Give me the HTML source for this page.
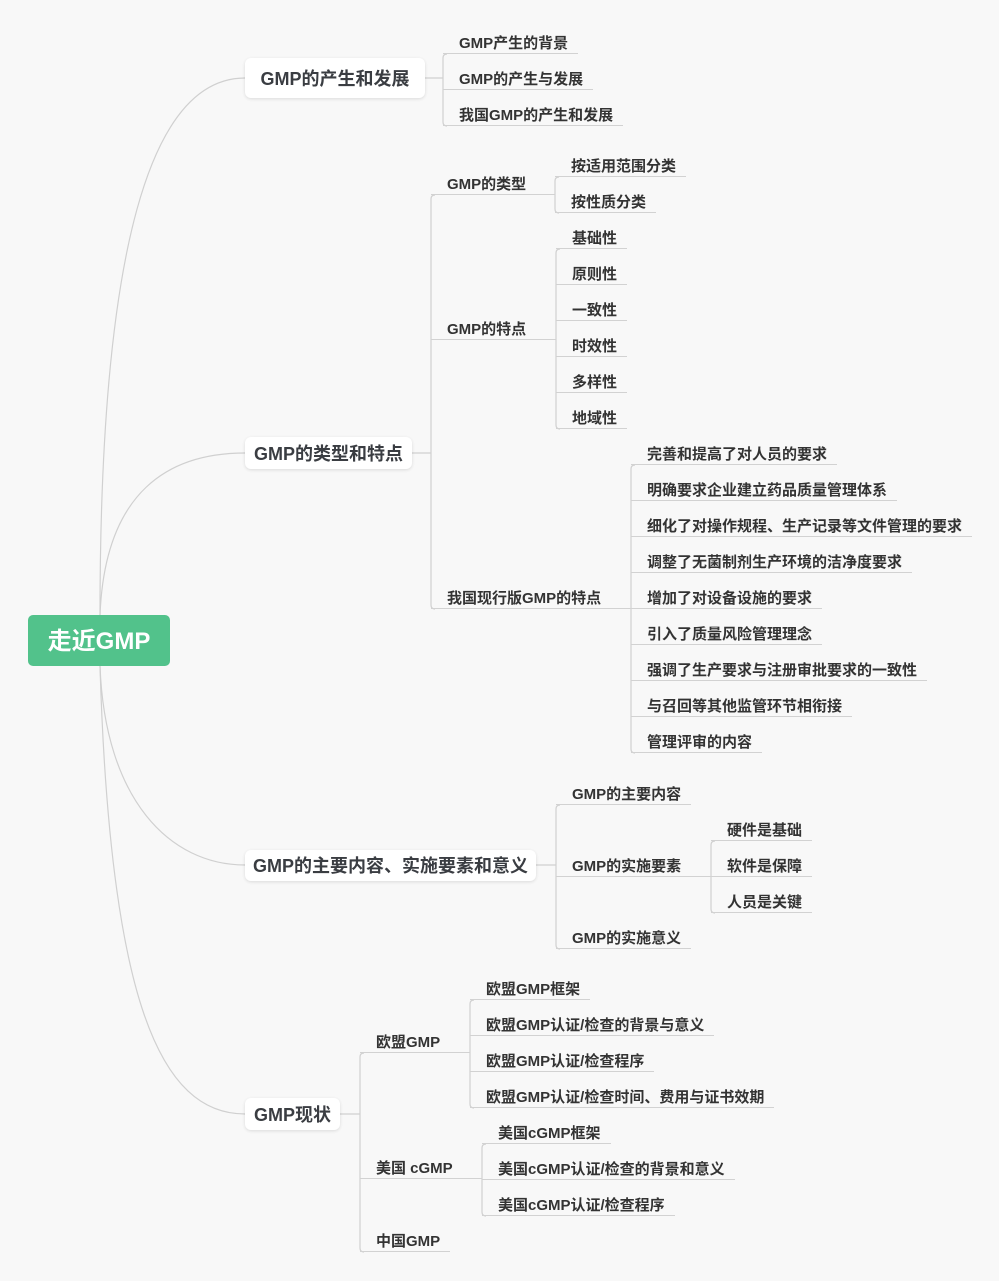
<!DOCTYPE html>
<html><head><meta charset="utf-8"><style>
body{margin:0;width:999px;height:1281px;background:#f8f8f8;position:relative;overflow:hidden;font-family:"Liberation Sans","Noto Sans CJK SC",sans-serif;}
.root{position:absolute;left:28px;top:615px;width:142px;height:51px;background:#52c28b;border-radius:5px;color:#fff;font-size:24px;font-weight:bold;line-height:53px;text-align:center;}
.m{position:absolute;left:245px;background:#fff;border-radius:6px;box-shadow:0 1px 3px rgba(0,0,0,.12);color:#3a3d42;font-size:18px;font-weight:bold;text-align:center;white-space:nowrap;}
.i{position:absolute;height:24px;line-height:28px;padding-left:16px;padding-right:10px;border-bottom:1px solid #d2d2d2;color:#333;font-size:15px;font-weight:bold;white-space:nowrap;box-sizing:border-box;}
svg{position:absolute;left:0;top:0;}
</style></head><body>
<svg width="999" height="1281" fill="none" stroke="#d0d0d0" stroke-width="1.2">
<path d="M100,615 C100,250 150,78 245,78"/>
<path d="M100,615 C105,490 170,453 245,453"/>
<path d="M100,666 C105,800 170,865 245,865"/>
<path d="M100,666 C110,1000 160,1114 245,1114"/>
<path d="M425,78H443 M447,54 Q443,54 443,58 V122 Q443,126 447,126"/>
<path d="M412,453H431 M435,195 Q431,195 431,199 V605 Q431,609 435,609"/>
<path d="M559,177 Q555,177 555,181 V209 Q555,213 559,213"/>
<path d="M560,249 Q556,249 556,253 V425 Q556,429 560,429"/>
<path d="M635,465 Q631,465 631,469 V749 Q631,753 635,753"/>
<path d="M536,865H556 M560,805 Q556,805 556,809 V945 Q556,949 560,949"/>
<path d="M715,841 Q711,841 711,845 V909 Q711,913 715,913"/>
<path d="M340,1114H360 M364,1053 Q360,1053 360,1057 V1248 Q360,1252 364,1252"/>
<path d="M474,1000 Q470,1000 470,1004 V1104 Q470,1108 474,1108"/>
<path d="M486,1144 Q482,1144 482,1148 V1212 Q482,1216 486,1216"/>
</svg>
<div class="root">走近GMP</div>
<div class="m" style="top:58px;width:180px;height:40px;line-height:42px;">GMP的产生和发展</div>
<div class="m" style="top:437px;width:167px;height:32px;line-height:34px;">GMP的类型和特点</div>
<div class="m" style="top:850px;width:291px;height:31px;line-height:33px;">GMP的主要内容、实施要素和意义</div>
<div class="m" style="top:1098px;width:95px;height:32px;line-height:34px;">GMP现状</div>

<div class="i" style="left:443px;top:30px">GMP产生的背景</div>
<div class="i" style="left:443px;top:66px">GMP的产生与发展</div>
<div class="i" style="left:443px;top:102px">我国GMP的产生和发展</div>

<div class="i" style="left:431px;top:171px;width:124px">GMP的类型</div>
<div class="i" style="left:431px;top:316px;width:125px">GMP的特点</div>
<div class="i" style="left:431px;top:585px;width:200px">我国现行版GMP的特点</div>

<div class="i" style="left:555px;top:153px">按适用范围分类</div>
<div class="i" style="left:555px;top:189px">按性质分类</div>

<div class="i" style="left:556px;top:225px">基础性</div>
<div class="i" style="left:556px;top:261px">原则性</div>
<div class="i" style="left:556px;top:297px">一致性</div>
<div class="i" style="left:556px;top:333px">时效性</div>
<div class="i" style="left:556px;top:369px">多样性</div>
<div class="i" style="left:556px;top:405px">地域性</div>

<div class="i" style="left:631px;top:441px">完善和提高了对人员的要求</div>
<div class="i" style="left:631px;top:477px">明确要求企业建立药品质量管理体系</div>
<div class="i" style="left:631px;top:513px">细化了对操作规程、生产记录等文件管理的要求</div>
<div class="i" style="left:631px;top:549px">调整了无菌制剂生产环境的洁净度要求</div>
<div class="i" style="left:631px;top:585px">增加了对设备设施的要求</div>
<div class="i" style="left:631px;top:621px">引入了质量风险管理理念</div>
<div class="i" style="left:631px;top:657px">强调了生产要求与注册审批要求的一致性</div>
<div class="i" style="left:631px;top:693px">与召回等其他监管环节相衔接</div>
<div class="i" style="left:631px;top:729px">管理评审的内容</div>

<div class="i" style="left:556px;top:781px">GMP的主要内容</div>
<div class="i" style="left:556px;top:853px;width:155px">GMP的实施要素</div>
<div class="i" style="left:556px;top:925px">GMP的实施意义</div>
<div class="i" style="left:711px;top:817px">硬件是基础</div>
<div class="i" style="left:711px;top:853px">软件是保障</div>
<div class="i" style="left:711px;top:889px">人员是关键</div>

<div class="i" style="left:360px;top:1029px;width:110px">欧盟GMP</div>
<div class="i" style="left:360px;top:1155px;width:122px">美国 cGMP</div>
<div class="i" style="left:360px;top:1228px">中国GMP</div>
<div class="i" style="left:470px;top:976px">欧盟GMP框架</div>
<div class="i" style="left:470px;top:1012px">欧盟GMP认证/检查的背景与意义</div>
<div class="i" style="left:470px;top:1048px">欧盟GMP认证/检查程序</div>
<div class="i" style="left:470px;top:1084px">欧盟GMP认证/检查时间、费用与证书效期</div>
<div class="i" style="left:482px;top:1120px">美国cGMP框架</div>
<div class="i" style="left:482px;top:1156px">美国cGMP认证/检查的背景和意义</div>
<div class="i" style="left:482px;top:1192px">美国cGMP认证/检查程序</div>
</body></html>
